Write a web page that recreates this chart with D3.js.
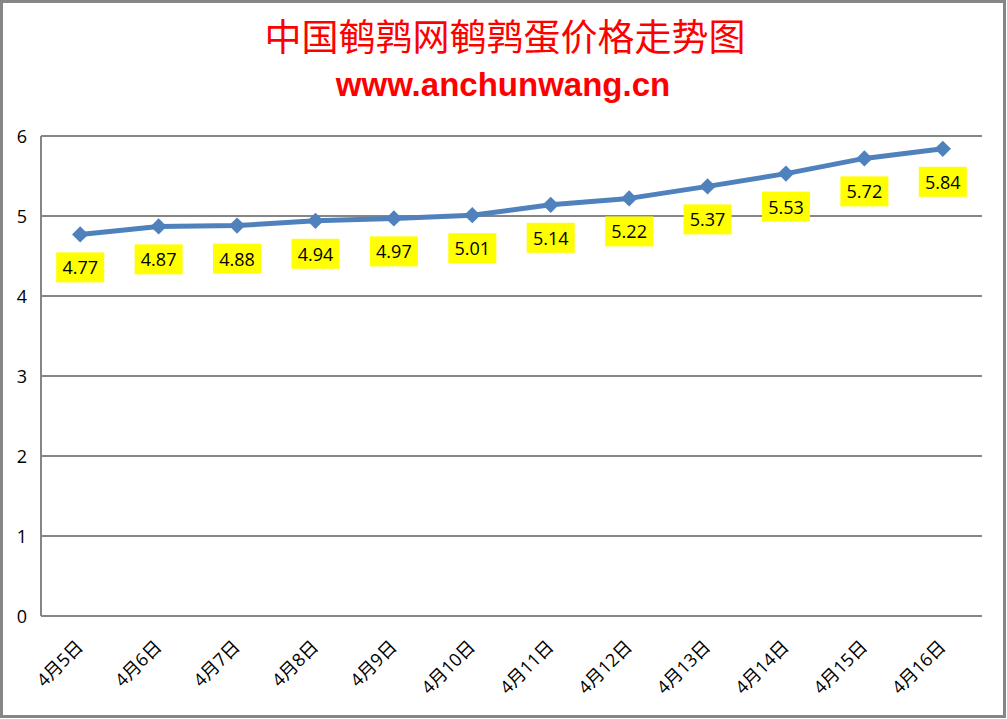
<!DOCTYPE html>
<html>
<head>
<meta charset="utf-8">
<script src="https://cdn.jsdelivr.net/npm/d3@7"></script>
<style>
  body { margin: 0; background: #fff; }
  svg { display: block; }
</style>
</head>
<body>
<div id="chart"></div>
<script>
var dates = ["4月5日", "4月6日", "4月7日", "4月8日", "4月9日", "4月10日",
             "4月11日", "4月12日", "4月13日", "4月14日", "4月15日", "4月16日"];
var prices = [4.77, 4.87, 4.88, 4.94, 4.97, 5.01, 5.14, 5.22, 5.37, 5.53, 5.72, 5.84];
var yTicks = [0, 1, 2, 3, 4, 5, 6];

var width = 1007, height = 719;
var margin = {top: 136, right: 25, bottom: 103, left: 41};

var svg = d3.select("#chart")
    .append("svg")
    .attr("width", width)
    .attr("height", height);

// outer frame
svg.append("rect")
    .attr("x", 1.5).attr("y", 1.5)
    .attr("width", width - 4).attr("height", height - 4)
    .attr("fill", "#fff")
    .attr("stroke", "#868686")
    .attr("stroke-width", 3);

svg.append("text")
    .text("中国鹌鹑网鹌鹑蛋价格走势图")
    .attr("x", 505).attr("y", 51)
    .attr("text-anchor", "middle")
    .attr("font-family", "'Noto Sans CJK SC', sans-serif")
    .attr("font-size", 37)
    .style("fill", "#ff0000")

svg.append("text")
    .text("www.anchunwang.cn")
    .attr("x", 503).attr("y", 96)
    .attr("text-anchor", "middle")
    .attr("font-family", "'Liberation Sans', Arial, sans-serif")
    .attr("font-weight", "bold")
    .attr("font-size", 33)
    .style("fill", "#ff0000")

var x = d3.scaleBand()
    .domain(dates)
    .range([margin.left, width - margin.right]);

var y = d3.scaleLinear()
    .domain([0, 6])
    .range([height - margin.bottom, margin.top]);

// gridlines
svg.append("g")
    .selectAll("line")
    .data(yTicks)
    .enter().append("line")
    .attr("x1", margin.left)
    .attr("x2", width - margin.right)
    .attr("y1", function(d){ return y(d); })
    .attr("y2", function(d){ return y(d); })
    .attr("stroke", "#868686")
    .attr("stroke-width", 2);

svg.append("line")
    .attr("x1", margin.left).attr("x2", margin.left)
    .attr("y1", y(6)).attr("y2", y(0))
    .attr("stroke", "#868686")
    .attr("stroke-width", 2);

// y axis labels
svg.append("g")
    .selectAll("text")
    .data(yTicks)
    .enter().append("text")
    .text(function(d){ return d; })
    .attr("x", 22)
    .attr("y", function(d){ return y(d) + 7; })
    .attr("text-anchor", "middle")
    .attr("font-family", "'Open Sans', sans-serif")
    .attr("font-size", 18)
    .style("fill", "#000")

// x axis labels
svg.append("g")
    .selectAll("text")
    .data(dates)
    .enter().append("text")
    .text(function(d){ return d; })
    .attr("text-anchor", "end")
    .attr("font-family", "'Open Sans', 'Noto Sans CJK SC', sans-serif")
    .attr("font-size", 18)
    .attr("transform", function(d){
        return "translate(" + (x(d) + x.bandwidth() / 2 + 4) + "," + (y(0) + 32) + ") rotate(-45)";
    })
    .style("fill", "#000")

var cx = function(d, i){ return x(dates[i]) + x.bandwidth() / 2; };

var line = d3.line()
    .x(cx)
    .y(function(d){ return y(d); });

svg.append("path")
    .datum(prices)
    .attr("d", line)
    .attr("fill", "none")
    .attr("stroke", "#4f81bd")
    .attr("stroke-width", 5)
    .attr("stroke-linejoin", "round");

svg.append("g")
    .selectAll("path")
    .data(prices)
    .enter().append("path")
    .attr("d", d3.symbol().type(d3.symbolDiamond2).size(170))
    .attr("transform", function(d, i){
        return "translate(" + cx(d, i) + "," + y(d) + ")";
    })
    .attr("fill", "#4f81bd");

// data labels
var lab = svg.append("g")
    .selectAll("g")
    .data(prices)
    .enter().append("g")
    .attr("transform", function(d, i){
        return "translate(" + cx(d, i) + "," + (y(d) + 33) + ")";
    });

lab.append("rect")
    .attr("x", -24).attr("y", -15)
    .attr("width", 48).attr("height", 30)
    .attr("fill", "#ffff00");

lab.append("text")
    .text(function(d){ return d.toFixed(2); })
    .attr("y", 7)
    .attr("text-anchor", "middle")
    .attr("font-family", "'Open Sans', sans-serif")
    .attr("font-size", 18)
    .style("fill", "#000")
</script>
</body>
</html>
